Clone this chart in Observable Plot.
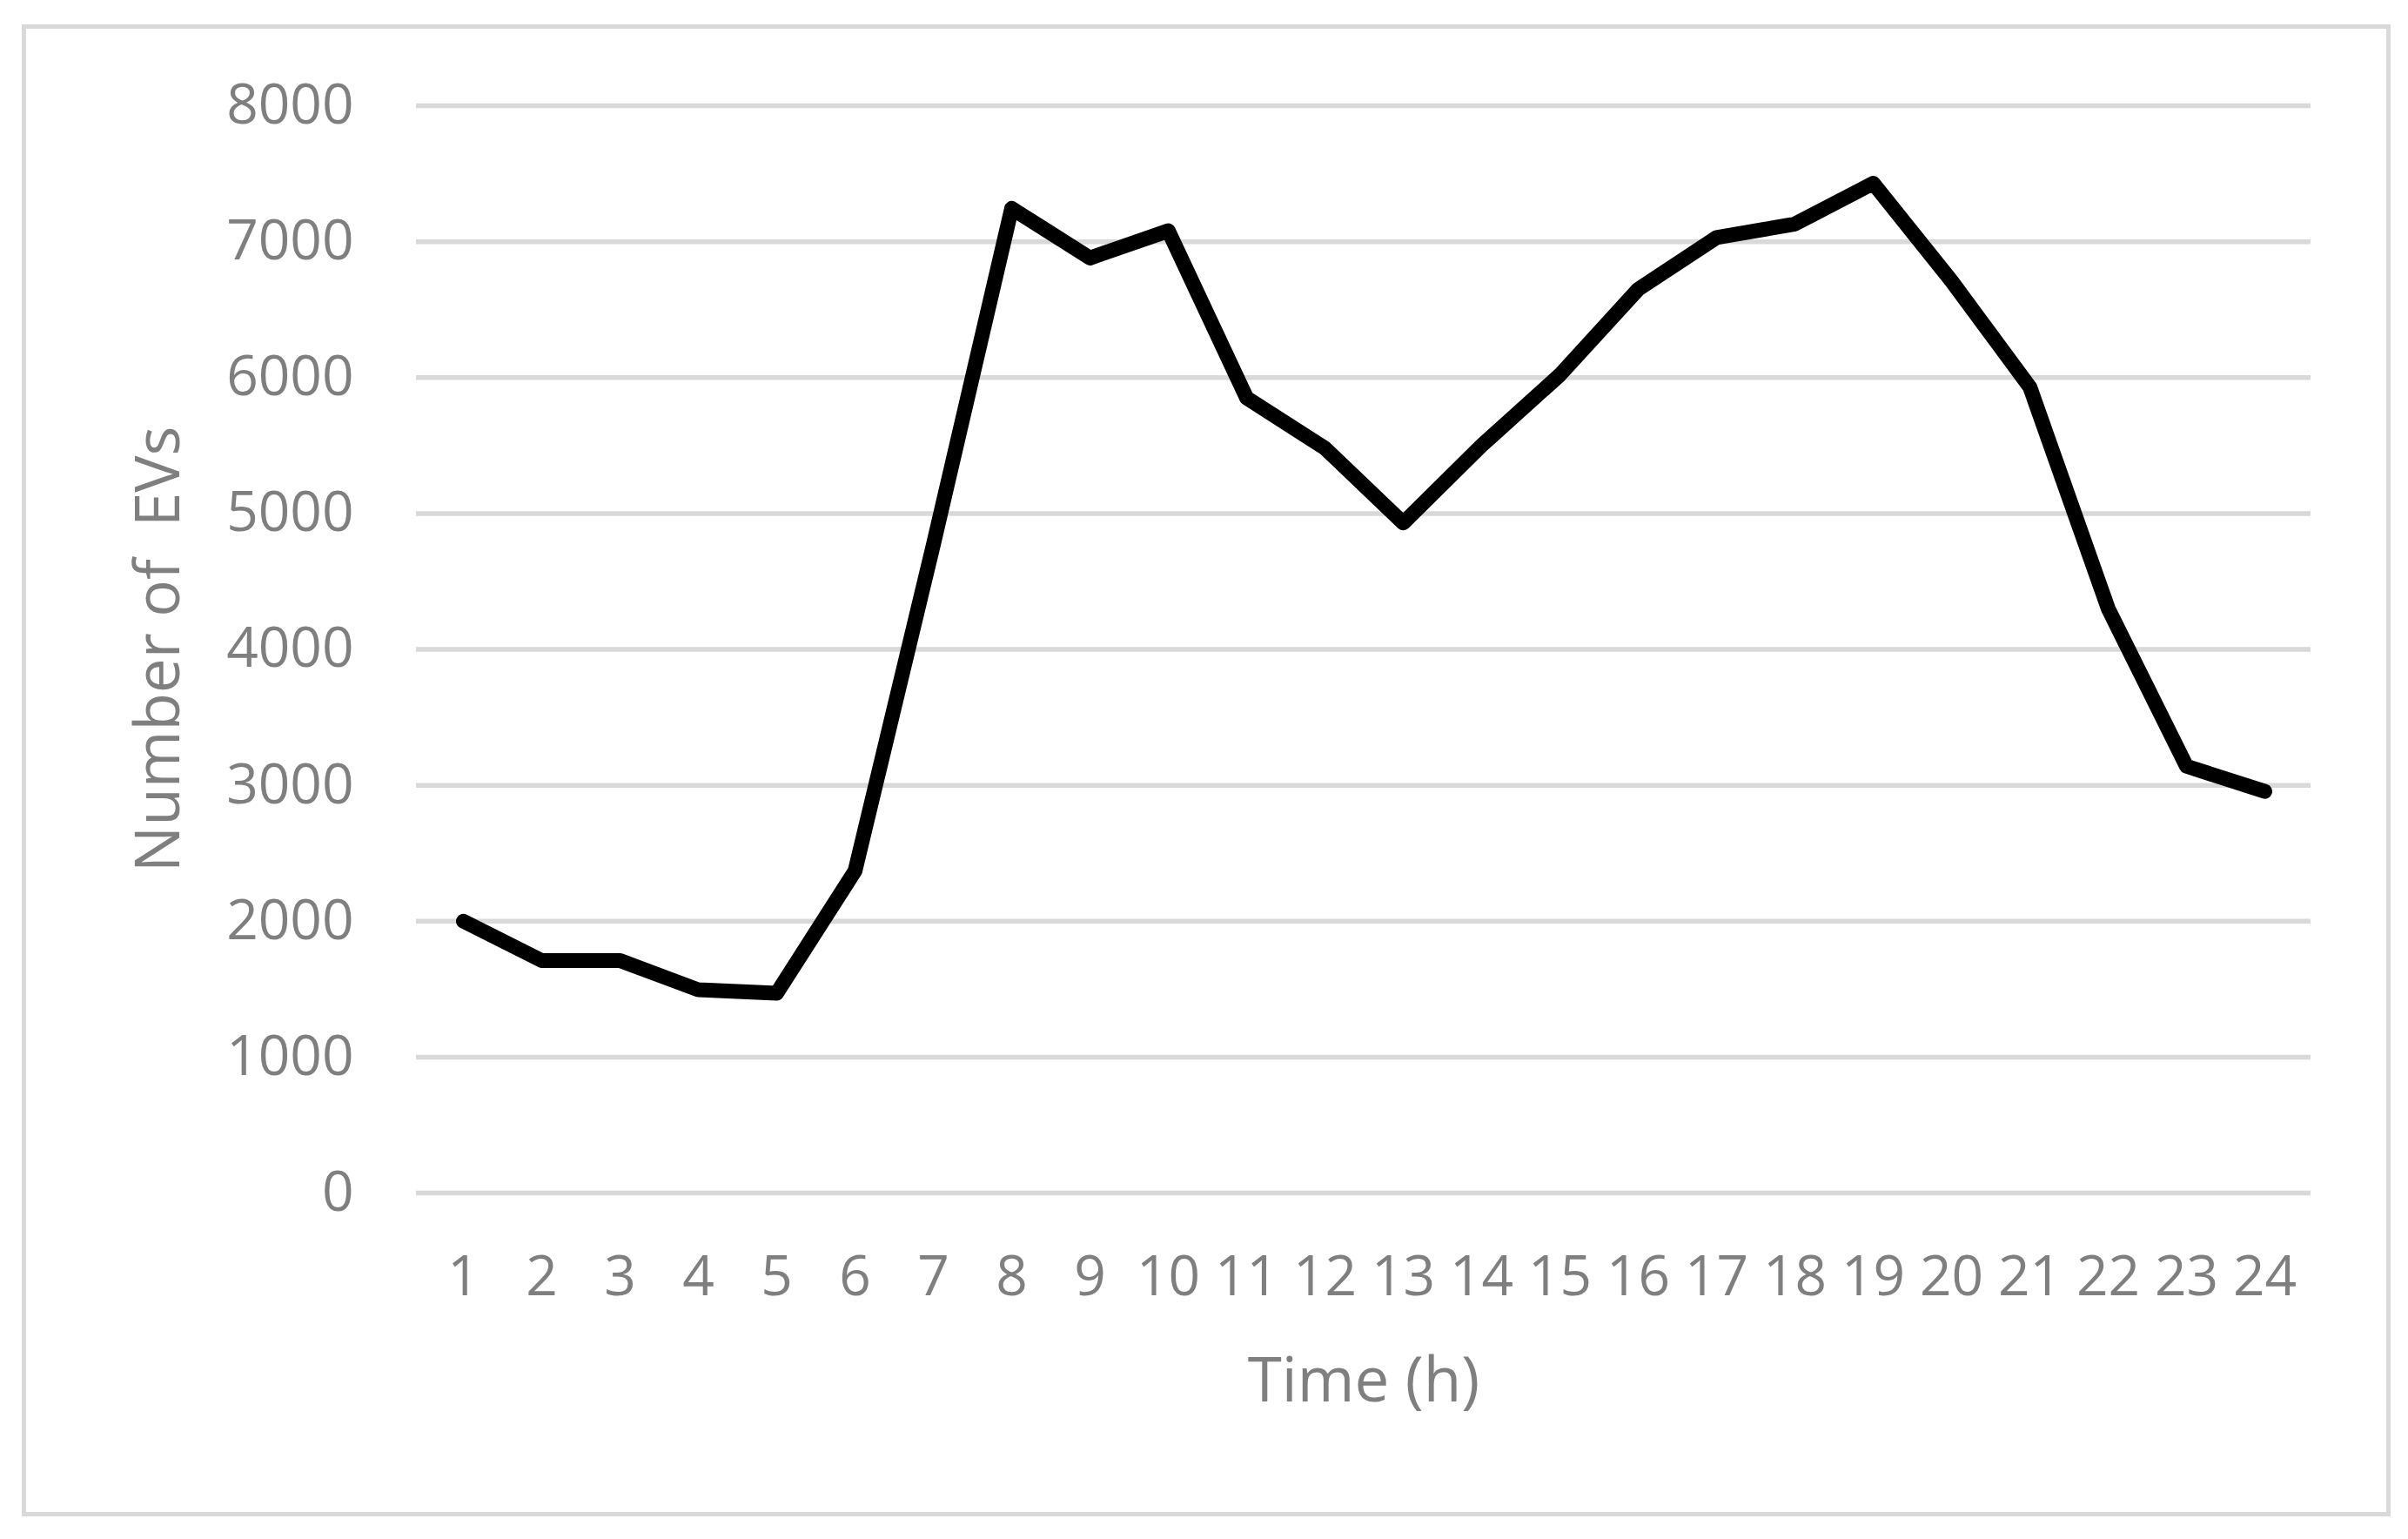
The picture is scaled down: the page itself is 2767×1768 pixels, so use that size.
<!DOCTYPE html>
<html><head><meta charset="utf-8">
<script src="https://cdn.jsdelivr.net/npm/d3@7"></script>
<script src="https://cdn.jsdelivr.net/npm/@observablehq/plot@0.6"></script>
<style>
html,body{margin:0;padding:0;background:#fff;}
#chart{position:relative;width:2767px;height:1768px;}
#border{position:absolute;left:25px;top:28px;width:2722px;height:1714px;box-sizing:border-box;border:5px solid #d9d9d9;pointer-events:none;}
</style></head><body>
<div id="chart"><div id="border"></div></div>
<script>
const hours = [1,2,3,4,5,6,7,8,9,10,11,12,13,14,15,16,17,18,19,20,21,22,23,24];
const evs = [2000,1710,1710,1495,1470,2370,4770,7245,6880,7080,5850,5480,4930,5500,6020,6650,7030,7130,7430,6710,5930,4300,3140,2955];
const yTicks = [0,1000,2000,3000,4000,5000,6000,7000,8000];
const xLabel = "Time (h)";
const yLabel = "Number of  EVs";

const data = hours.map((h, i) => ({hour: h, evs: evs[i]}));

const plot = Plot.plot({
  width: 2767, height: 1768,
  marginLeft: 478, marginRight: 112, marginTop: 121, marginBottom: 398,
  style: {fontFamily: "'Open Sans', sans-serif", background: "transparent", color: "#7f7f7f", overflow: "visible"},
  x: {type: "point", domain: hours, padding: 0.5},
  y: {domain: [0, 8000]},
  marks: [
    Plot.ruleY(yTicks, {stroke: "#d9d9d9", strokeWidth: 5.5}),
    Plot.axisY(yTicks, {tickSize: 0, tickPadding: 72, fontSize: 64, fill: "#7f7f7f", label: null, tickFormat: d => String(d)}),
    Plot.axisX(hours, {tickSize: 0, tickPadding: 72, fontSize: 64, fill: "#7f7f7f", label: null, tickFormat: d => String(d)}),
    Plot.line(data, {x: "hour", y: "evs", stroke: "#000", strokeWidth: 17, strokeLinejoin: "round", strokeLinecap: "round"}),
    Plot.text([xLabel], {text: d => d, frameAnchor: "bottom", dy: 217, lineAnchor: "middle", fontSize: 71, fill: "#7f7f7f"}),
    Plot.text([yLabel], {text: d => d, frameAnchor: "left", textAnchor: "middle", dx: -295, rotate: -90, lineAnchor: "middle", fontSize: 71, fill: "#7f7f7f"})
  ]
});
document.getElementById("chart").appendChild(plot);
</script>
</body></html>
